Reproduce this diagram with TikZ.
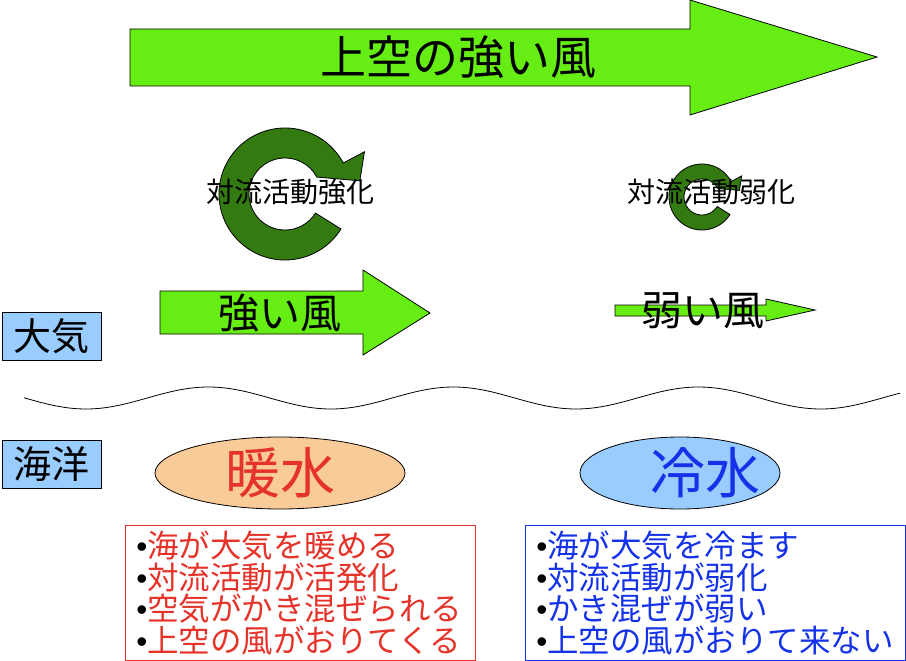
\documentclass[tikz,border=0pt]{standalone}
\usepackage{fontspec}
\setmainfont{Noto Sans CJK JP}
\newfontfamily\bulletfont{Liberation Sans}
\usetikzlibrary{shapes.geometric, positioning}

\definecolor{windgreen}{HTML}{66EE14}
\definecolor{cyclegreen}{HTML}{337A10}
\definecolor{warmred}{HTML}{E5332A}
\definecolor{coldblue}{HTML}{1432E8}
\definecolor{warmfill}{HTML}{F9CB98}
\definecolor{coldfill}{HTML}{99CCFF}

\newcommand{\fs}[1]{\fontsize{#1}{#1}\selectfont}
\newcommand{\bul}{{\color{black}\bulletfont •}}
% ring arrow around (0,0), y pointing up
\newcommand{\cyclepath}{(-32:66) arc[start angle=-32, end angle=-332, radius=66] -- (28:90) -- (10:76) -- (28:36) arc[start angle=-332, end angle=-32, radius=36] -- cycle}

\begin{document}
\begin{tikzpicture}[x=1pt, y=-1pt,
        windarrow/.style={draw, line width=0.8pt, fill=windgreen},
        cyclearrow/.style={draw, line width=0.8pt, fill=cyclegreen},
        labelbox/.style={draw, line width=0.8pt, fill=coldfill, anchor=north west, inner sep=0pt, minimum width=99pt, minimum height=48pt, font=\fs{38}},
        pool/.style={draw, ellipse, line width=0.8pt, inner sep=0pt, minimum height=72pt},
        listbox/.style={draw, line width=0.8pt, anchor=north west, inner xsep=11pt, inner ysep=0pt, minimum height=135pt, align=left, font=\fontsize{31.5}{31.7}\selectfont}]
    \useasboundingbox (0,0) rectangle (906,661);

    % winds
    \draw[windarrow] (130,29) -- (690,29) -- (690,0) -- (877,57) -- (690,115) -- (690,86) -- (130,86) -- cycle;
    \node[font=\fs{46}] (upperwind) at (458,57) {上空の強い風};

    \draw[windarrow] (160,291) -- (363,291) -- (363,270) -- (430,313) -- (363,355) -- (363,334) -- (160,334) -- cycle;
    \node[font=\fs{41}] (strongwind) at (280,313) {強い風};

    \draw[windarrow] (615,305) -- (766,305) -- (766,299) -- (815,310) -- (766,321) -- (766,316) -- (615,316) -- cycle;
    \node[font=\fs{41}] (weakwind) at (703,311) {弱い風};

    % convection
    \begin{scope}[shift={(285,194)}, yscale=-1]
        \draw[cyclearrow] \cyclepath;
    \end{scope}
    \node[font=\fs{28}] (strongconv) at (290,192) {対流活動強化};

    \begin{scope}[shift={(702,197)}, yscale=-1, scale=0.5]
        \draw[cyclearrow] \cyclepath;
    \end{scope}
    \node[font=\fs{28}] (weakconv) at (711,192) {対流活動弱化};

    % sea surface
    \draw[line width=0.8pt] plot[domain=24:900, samples=120, smooth] (\x, {398+11*cos(1.4694*(\x-86))});

    \node[labelbox] (atmos) at (2,312) {大気};
    \node[labelbox] (ocean) at (2,440) {海洋};

    % sea water
    \node[pool, fill=warmfill, minimum width=250pt] (warmpool) at (280,473) {};
    \node[font=\fs{55}, text=warmred] (warmlabel) at (warmpool) {暖水};
    \node[pool, fill=coldfill, minimum width=200pt] (coldpool) at (680,473) {};
    \node[font=\fs{55}, text=coldblue, xshift=25pt] (coldlabel) at (coldpool) {冷水};

    \node[listbox, draw=warmred, text=warmred, text width=328pt] (warmlist) at (125,525) {\bul 海が大気を暖める\\ \bul 対流活動が活発化\\ \bul 空気がかき混ぜられる\\ \bul 上空の風がおりてくる};
    \node[listbox, draw=coldblue, text=coldblue, text width=358pt] (coldlist) at (525,525) {\bul 海が大気を冷ます\\ \bul 対流活動が弱化\\ \bul かき混ぜが弱い\\ \bul 上空の風がおりて来ない};
\end{tikzpicture}
\end{document}
